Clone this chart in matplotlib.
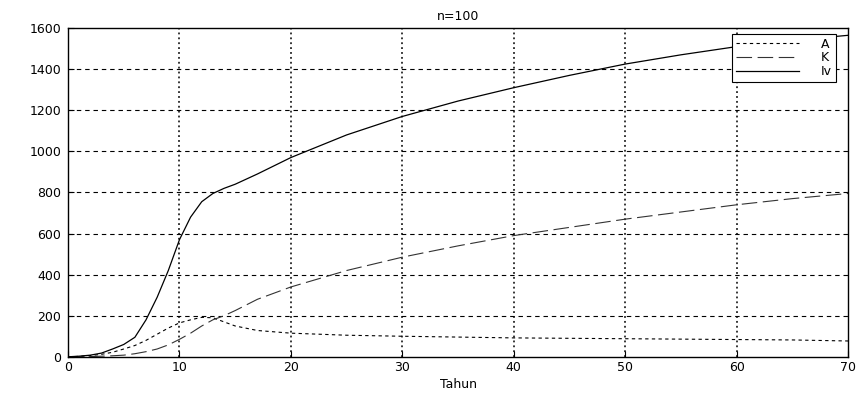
import numpy as np
import matplotlib
matplotlib.use("Agg")
import matplotlib.pyplot as plt

# values (tahun vs level)
tahun = [0, 1, 2, 3, 4, 5, 6, 7, 8, 9, 10, 11, 12, 13, 14, 15, 17, 20,
         25, 30, 35, 40, 45, 50, 55, 60, 65, 70]
A = [0, 2, 6, 12, 22, 38, 55, 80, 110, 140, 165, 180, 192, 190, 170, 150,
     128, 115, 105, 100, 96, 92, 90, 88, 86, 84, 82, 77]
K = [0, 0, 1, 3, 5, 8, 15, 25, 38, 58, 85, 115, 150, 180, 200, 225, 280,
     340, 420, 485, 540, 590, 630, 670, 705, 740, 770, 795]
Iv = [0, 3, 8, 18, 38, 60, 95, 180, 290, 420, 570, 680, 755, 795, 820, 840,
      890, 970, 1080, 1170, 1245, 1310, 1370, 1425, 1470, 1510, 1540, 1565]

xticks = np.arange(0, 71, 10)
yticks = np.arange(0, 1601, 200)

plt.rcParams['font.family'] = ['DejaVu Sans']
plt.rcParams['font.size'] = 9

fig = plt.figure(figsize=(8.61, 3.96), dpi=100)
ax = fig.add_axes([0.079, 0.099, 0.906, 0.830])

ax.plot(tahun, A, color='black', lw=0.8, dashes=(3, 3), label='A')
ax.plot(tahun, K, color='#333333', lw=0.8, dashes=(14, 5), label='K')
ax.plot(tahun, Iv, color='black', lw=0.9, label='Iv')

ax.set_xlim(0, 70)
ax.set_ylim(0, 1600)
ax.set_xticks(xticks)
ax.set_yticks(yticks)
ax.tick_params(direction='in', length=4, width=0.8)
ax.tick_params(axis='x', pad=3)
ax.tick_params(axis='y', pad=5)

# MATLAB style grid: dotted verticals, dashed horizontals
for x in xticks[1:-1]:
    ax.axvline(x, color='black', lw=1.1, ls=(0, (1.2, 2)), zorder=0)
for y in yticks[1:-1]:
    ax.axhline(y, color='black', lw=0.8, ls=(0, (4, 3.5)), zorder=0)

for s in ax.spines.values():
    s.set_linewidth(1.0)

ax.set_xlabel('Tahun', labelpad=3)
ax.set_title('n=100', fontsize=9, pad=6)

leg = ax.legend(loc='upper right', bbox_to_anchor=(0.9845, 0.982),
                fancybox=False, framealpha=1, edgecolor='black',
                handlelength=5.0, borderpad=0.3, labelspacing=0.05,
                handletextpad=1.8, borderaxespad=0)
leg.get_frame().set_linewidth(0.8)

fig.savefig('out.png', dpi=100)
